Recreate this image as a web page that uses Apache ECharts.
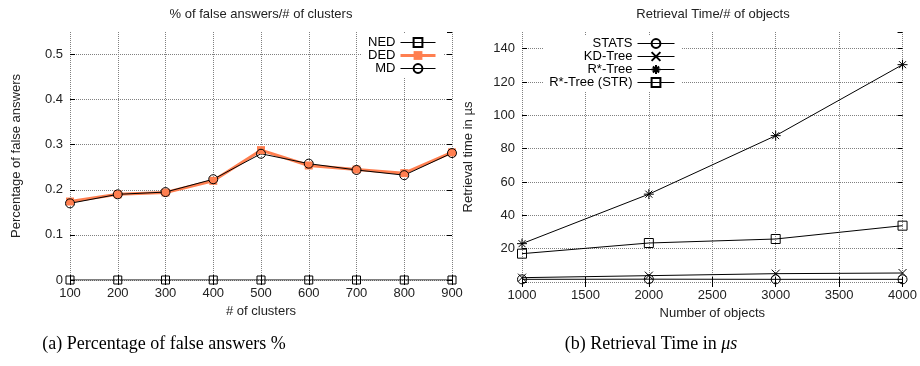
<!DOCTYPE html>
<html>
<head>
<meta charset="utf-8">
<title>false answers / retrieval time</title>
<script src="https://cdn.jsdelivr.net/npm/echarts@6.0.0/dist/echarts.min.js"></script>
<style>
	html, body { margin: 0; padding: 0; background: #fff; }
	#main { width: 920px; height: 366px; }
</style>
</head>
<body>
<div id="main"></div>
<script>
// (a) 错误答案百分比
var clusters = [100, 200, 300, 400, 500, 600, 700, 800, 900];
var nedValues = [0, 0, 0, 0, 0, 0, 0, 0, 0];
var dedValues = [0.174, 0.19, 0.194, 0.22, 0.288, 0.254, 0.245, 0.237, 0.283];
var mdValues = [0.17, 0.19, 0.195, 0.2235, 0.28, 0.258, 0.244, 0.2325, 0.2815];
var leftNames = ['NED', 'DED', 'MD'];

// (b) 检索时间
var objects = [1000, 2000, 3000, 4000];
var statsValues = [1.6, 1.7, 1.6, 1.6];
var kdValues = [2.6, 3.8, 5, 5.4];
var rstarValues = [23, 52.7, 87.8, 130.4];
var strValues = [17, 23.4, 25.8, 33.8];
var rightNames = ['STATS', 'KD-Tree', 'R*-Tree', 'R*-Tree (STR)'];

var FONT = '"Liberation Sans", Arial, sans-serif';
var SERIF = '"Liberation Serif", serif';
var CORAL = '#ff7f50';
var SYM_X = 'path://M0,0L10,10M0,10L10,0';
var SYM_STAR = 'path://M5,0L5,10M0,5L10,5M1.5,1.5L8.5,8.5M1.5,8.5L8.5,1.5';

var chartPage = {
	init: function() {
		this.chart = echarts.init(document.getElementById('main'), null, { renderer: 'canvas' });
		this.chart.setOption(this.buildOption(), true);
	},
	pairs: function(xs, ys) {
		var out = [];
		for (var i = 0; i < xs.length; i++) {
			out.push([xs[i], ys[i]]);
		}
		return out;
	},
	gridLine: function() {
		return {
			show: true,
			lineStyle: { color: '#808080', type: [1, 1], width: 1 }
		};
	},
	tick: function() {
		return { show: true, inside: true, length: 5, lineStyle: { color: '#000' } };
	},
	// 下/左 坐标轴带标签，上/右 只画刻度
	xAxes: function(gridIndex, min, max, interval, name) {
		var self = this;
		return [{
			type: 'value',
			gridIndex: gridIndex,
			min: min,
			max: max,
			interval: interval,
			name: name,
			nameLocation: 'middle',
			nameGap: 25,
			nameTextStyle: { fontFamily: FONT, fontSize: 13, color: '#222' },
			axisLine: { show: false },
			axisTick: self.tick(),
			axisLabel: {
				margin: 7, fontFamily: FONT, fontSize: 13, color: '#222',
				formatter: function(v) { return String(v); }
			},
			splitLine: self.gridLine()
		}, {
			type: 'value',
			gridIndex: gridIndex,
			position: 'top',
			min: min,
			max: max,
			interval: interval,
			axisLine: { show: false },
			axisTick: self.tick(),
			axisLabel: { show: false },
			splitLine: { show: false }
		}];
	},
	yAxes: function(gridIndex, min, max, interval, name, formatter) {
		var self = this;
		var split = self.gridLine();
		split.showMaxLine = false;
		return [{
			type: 'value',
			gridIndex: gridIndex,
			min: min,
			max: max,
			interval: interval,
			name: name,
			nameLocation: 'middle',
			nameGap: 47,
			nameTextStyle: { fontFamily: FONT, fontSize: 13, color: '#222' },
			axisLine: { show: false },
			axisTick: self.tick(),
			axisLabel: { margin: 7, fontFamily: FONT, fontSize: 13, color: '#222', showMaxLabel: false, formatter: formatter },
			splitLine: split
		}, {
			type: 'value',
			gridIndex: gridIndex,
			position: 'right',
			min: min,
			max: max,
			interval: interval,
			axisLine: { show: false },
			axisTick: self.tick(),
			axisLabel: { show: false },
			splitLine: { show: false }
		}];
	},
	lineSeries: function(name, data, axisIdx, symbol, size, lineColor, lineWidth, fill) {
		return {
			name: name,
			type: 'line',
			xAxisIndex: axisIdx,
			yAxisIndex: axisIdx,
			data: data,
			symbol: symbol,
			symbolSize: size,
			showAllSymbol: true,
			animation: false,
			lineStyle: { color: lineColor, width: lineWidth },
			itemStyle: { color: fill, borderColor: lineColor, borderWidth: fill === CORAL ? 0 : 1 },
			emphasis: { disabled: true }
		};
	},
	legend: function(names, right, top, itemWidth) {
		// 图例线宽默认会变成 2，这里按系列线宽单独设置
		var items = names.map(function(n) {
			return { name: n, lineStyle: { width: n === 'DED' ? 3 : 1 } };
		});
		return {
			data: items,
			orient: 'vertical',
			align: 'right',
			right: right,
			top: top,
			itemWidth: itemWidth,
			itemHeight: 11,
			itemGap: 0,
			padding: [2, 6, 2, 6],
			backgroundColor: '#fff',
			selectedMode: false,
			lineStyle: { width: 1 },
			textStyle: { fontFamily: FONT, fontSize: 13, lineHeight: 13, color: '#000' }
		};
	},
	buildOption: function() {
		var self = this;
		var xA = self.xAxes(0, 100, 900, 100, '# of clusters')
			.concat(self.xAxes(1, 1000, 4000, 500, 'Number of objects'));
		var yA = self.yAxes(0, 0, 0.55, 0.1, 'Percentage of false answers')
			.concat(self.yAxes(1, 0, 150, 20, 'Retrieval time in \u00b5s', function(v) {
				return v === 0 ? '' : String(v);
			}));
		return {
			backgroundColor: '#fff',
			animation: false,
			grid: [
				{ left: 70, right: 468, top: 32, bottom: 86 },
				{ left: 522, right: 16, top: 32, bottom: 84 }
			],
			xAxis: xA,
			yAxis: yA,
			legend: [
				self.legend(leftNames, 477, 34, 35),
				self.legend(rightNames, 239, 35, 37)
			],
			series: [
				self.lineSeries('NED', self.pairs(clusters, nedValues), 0, 'rect', 8, '#000', 1, 'transparent'),
				self.lineSeries('DED', self.pairs(clusters, dedValues), 0, 'rect', 8, CORAL, 3, CORAL),
				self.lineSeries('MD', self.pairs(clusters, mdValues), 0, 'circle', 9, '#000', 1, 'transparent'),
				self.lineSeries('STATS', self.pairs(objects, statsValues), 2, 'circle', 9, '#000', 1, 'transparent'),
				self.lineSeries('KD-Tree', self.pairs(objects, kdValues), 2, SYM_X, 8, '#000', 1, 'transparent'),
				self.lineSeries('R*-Tree', self.pairs(objects, rstarValues), 2, SYM_STAR, 10, '#000', 1, 'transparent'),
				self.lineSeries('R*-Tree (STR)', self.pairs(objects, strValues), 2, 'rect', 9, '#000', 1, 'transparent')
			],
			graphic: [{
				type: 'text', x: 261, y: 14,
				style: { text: '% of false answers/# of clusters', fontFamily: FONT, fontSize: 13, fill: '#222', align: 'center', verticalAlign: 'middle' }
			}, {
				type: 'text', x: 713, y: 14,
				style: { text: 'Retrieval Time/# of objects', fontFamily: FONT, fontSize: 13, fill: '#222', align: 'center', verticalAlign: 'middle' }
			}, {
				type: 'text', x: 164, y: 344,
				style: { text: '(a) Percentage of false answers %', fontFamily: SERIF, fontSize: 18, fill: '#000', align: 'center', verticalAlign: 'middle' }
			}, {
				type: 'text', x: 651, y: 344,
				style: {
					text: '{r|(b) Retrieval Time in }{i|\u03bcs}',
					align: 'center', verticalAlign: 'middle',
					rich: {
						r: { fontFamily: SERIF, fontSize: 18, fill: '#000' },
						i: { fontFamily: SERIF, fontSize: 18, fontStyle: 'italic', fill: '#000' }
					}
				}
			}]
		};
	}
};

chartPage.init();
</script>
</body>
</html>
